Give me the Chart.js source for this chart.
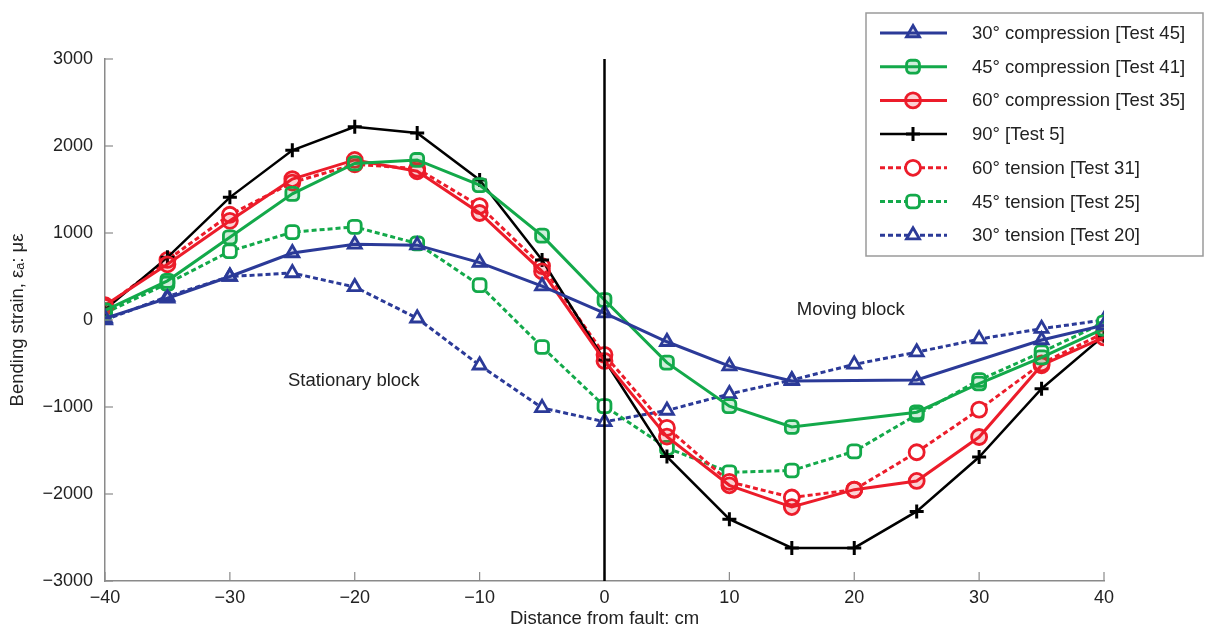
<!DOCTYPE html>
<html>
<head>
<meta charset="utf-8">
<script src="https://cdn.jsdelivr.net/npm/chart.js@4.4.1/dist/chart.umd.min.js"></script>
<style>
  body { margin: 0; background: #fff; }
  canvas { display: block; }
</style>
</head>
<body>
<canvas id="strainChart" width="1214" height="626"></canvas>
<script>
// distance from fault, cm
const distances = [-40, -35, -30, -25, -20, -15, -10, -5, 0, 5, 10, 15, 20, 25, 30, 35, 40];

// bending strain, microstrain (null = no reading at that gauge)
const comp30 = [20, 250, 500, 770, 870, 860, 660, 390, 80, -250, -530, -700, null, -690, null, -230, -60];
const comp45 = [110, 450, 950, 1450, 1800, 1840, 1550, 970, 230, -490, -990, -1230, null, -1060, -730, -430, -100];
const comp60 = [170, 640, 1140, 1620, 1840, 1710, 1230, 560, -470, -1340, -1900, -2150, -1950, -1850, -1345, -520, -200];
const deg90 = [120, 720, 1410, 1950, 2220, 2150, 1610, 690, -460, -1570, -2290, -2620, -2620, -2200, -1575, -790, -180];
const ten60 = [150, 690, 1210, 1580, 1790, 1740, 1310, 620, -400, -1240, -1860, -2040, -1950, -1520, -1030, -500, -150];
const ten45 = [80, 420, 790, 1010, 1070, 880, 400, -310, -990, -1470, -1750, -1730, -1510, -1090, -690, -370, -30];
const ten30 = [0, 270, 500, 540, 380, 20, -520, -1010, -1170, -1040, -850, -690, -510, -370, -220, -100, 0];

const seriesLabels = [
    '30\u00b0 compression [Test 45]',
    '45\u00b0 compression [Test 41]',
    '60\u00b0 compression [Test 35]',
    '90\u00b0 [Test 5]',
    '60\u00b0 tension [Test 31]',
    '45\u00b0 tension [Test 25]',
    '30\u00b0 tension [Test 20]'
];

const xTicks = [-40, -30, -20, -10, 0, 10, 20, 30, 40];
const yTicks = [-3000, -2000, -1000, 0, 1000, 2000, 3000];

const BLUE = '#2b3a98';
const GREEN = '#13a94a';
const RED = '#ec1c2a';
const BLACK = '#000000';
const FONT = "'Liberation Sans', Arial, sans-serif";
const TEXT_SIZE = 18.5;

function toPoints(values) {
    return distances.map(function (d, i) {
        return { x: d, y: values[i] };
    });
}

function series(label, values, color, style, dashed) {
    return {
        label: label,
        data: toPoints(values),
        borderColor: color,
        backgroundColor: color,
        borderWidth: style === 'cross' ? 2.5 : 3,
        borderDash: dashed ? [5, 3] : [],
        pointStyle: style,
        pointRadius: style === 'cross' ? 7 : 7.5,
        pointBorderWidth: style === 'cross' ? 3 : 2.8,
        pointBackgroundColor: dashed ? '#ffffff' : color + '33',
        pointBorderColor: color,
        tension: 0,
        spanGaps: true
    };
}

function minusLabel(v) {
    return v < 0 ? '\u2212' + Math.abs(v) : String(v);
}

const extras = {
    id: 'extras',
    afterDatasetsDraw: function (chart) {
        const ctx = chart.ctx;
        const xs = chart.scales.x;
        const ys = chart.scales.y;
        const area = chart.chartArea;
        ctx.save();

        // inward tick marks
        ctx.strokeStyle = '#8a8a8a';
        ctx.lineWidth = 1.2;
        yTicks.forEach(function (v) {
            const y = ys.getPixelForValue(v);
            ctx.beginPath();
            ctx.moveTo(area.left, y);
            ctx.lineTo(area.left + 8, y);
            ctx.stroke();
        });
        xTicks.forEach(function (v) {
            const x = xs.getPixelForValue(v);
            ctx.beginPath();
            ctx.moveTo(x, area.bottom);
            ctx.lineTo(x, area.bottom - 9);
            ctx.stroke();
        });

        // fault line
        const x0 = xs.getPixelForValue(0);
        ctx.strokeStyle = '#000';
        ctx.lineWidth = 2.5;
        ctx.beginPath();
        ctx.moveTo(x0, area.top);
        ctx.lineTo(x0, area.bottom);
        ctx.stroke();

        // block labels
        ctx.fillStyle = '#222';
        ctx.font = TEXT_SIZE + 'px ' + FONT;
        ctx.textBaseline = 'middle';
        ctx.textAlign = 'left';
        ctx.fillText('Stationary block', xs.getPixelForValue(-25.35), ys.getPixelForValue(-700));
        ctx.fillText('Moving block', xs.getPixelForValue(15.4), ys.getPixelForValue(115));

        // legend box
        ctx.fillStyle = '#fff';
        ctx.fillRect(866, 13, 337, 243);
        ctx.strokeStyle = '#9a9a9a';
        ctx.lineWidth = 1.5;
        ctx.strokeRect(866, 13, 337, 243);

        chart.data.datasets.forEach(function (ds, i) {
            const y = 33 + i * 33.7;
            ctx.strokeStyle = ds.borderColor;
            ctx.lineWidth = ds.borderWidth;
            ctx.setLineDash(ds.borderDash);
            ctx.beginPath();
            ctx.moveTo(880, y);
            ctx.lineTo(947, y);
            ctx.stroke();
            ctx.setLineDash([]);
            ctx.fillStyle = ds.pointBackgroundColor;
            ctx.strokeStyle = ds.pointBorderColor;
            ctx.lineWidth = ds.pointBorderWidth;
            Chart.helpers.drawPoint(ctx, {
                pointStyle: ds.pointStyle,
                radius: ds.pointRadius,
                rotation: 0,
                borderWidth: ds.pointBorderWidth
            }, 913, y);
            ctx.fillStyle = '#222';
            ctx.font = TEXT_SIZE + 'px ' + FONT;
            ctx.textAlign = 'left';
            ctx.fillText(ds.label, 972, y + 1);
        });
        ctx.restore();
    }
};

new Chart(document.getElementById('strainChart').getContext('2d'), {
    type: 'line',
    data: {
        datasets: [
            series(seriesLabels[0], comp30, BLUE, 'triangle', false),
            series(seriesLabels[1], comp45, GREEN, 'rectRounded', false),
            series(seriesLabels[2], comp60, RED, 'circle', false),
            series(seriesLabels[3], deg90, BLACK, 'cross', false),
            series(seriesLabels[4], ten60, RED, 'circle', true),
            series(seriesLabels[5], ten45, GREEN, 'rectRounded', true),
            series(seriesLabels[6], ten30, BLUE, 'triangle', true)
        ]
    },
    options: {
        responsive: false,
        animation: false,
        layout: {
            padding: { top: 59, right: 110, left: 0, bottom: 0 }
        },
        plugins: {
            legend: { display: false },
            tooltip: { enabled: false }
        },
        scales: {
            x: {
                type: 'linear',
                min: -40,
                max: 40,
                afterFit: function (scale) { scale.height = 45; },
                afterBuildTicks: function (scale) {
                    scale.ticks = xTicks.map(function (v) { return { value: v }; });
                },
                grid: { display: false, drawTicks: false },
                border: { display: true, color: '#8a8a8a', width: 1.5 },
                ticks: {
                    padding: 6,
                    color: '#222',
                    font: { family: FONT, size: 18 },
                    maxRotation: 0,
                    callback: minusLabel
                },
                title: {
                    display: true,
                    text: 'Distance from fault: cm',
                    color: '#222',
                    font: { family: FONT, size: TEXT_SIZE, lineHeight: 1 },
                    padding: { top: 0, bottom: -2 }
                }
            },
            y: {
                min: -3000,
                max: 3000,
                afterFit: function (scale) { scale.width = 105; },
                afterBuildTicks: function (scale) {
                    scale.ticks = yTicks.map(function (v) { return { value: v }; });
                },
                grid: { display: false, drawTicks: false },
                border: { display: true, color: '#8a8a8a', width: 1.5 },
                ticks: {
                    padding: 12,
                    color: '#222',
                    font: { family: FONT, size: 18 },
                    callback: minusLabel
                },
                title: {
                    display: true,
                    text: 'Bending strain, \u03b5\u2090: \u03bc\u03b5',
                    color: '#222',
                    font: { family: FONT, size: TEXT_SIZE, lineHeight: 1 },
                    padding: { top: 9, bottom: 0 }
                }
            }
        }
    },
    plugins: [extras]
});
</script>
</body>
</html>
